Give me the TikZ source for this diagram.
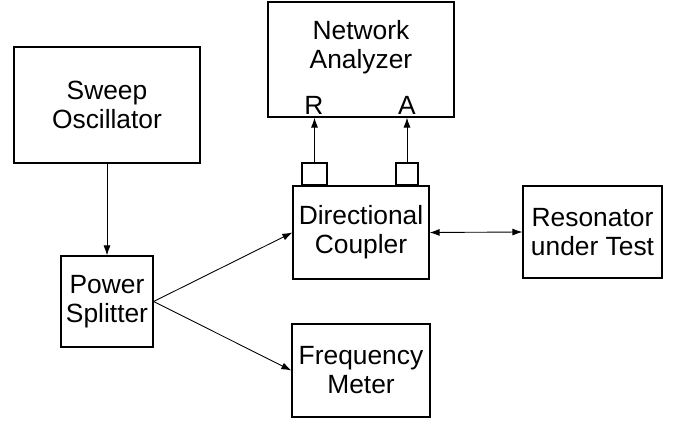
\documentclass[tikz,border=0pt]{standalone}
\usepackage{fontspec}
\setmainfont{Liberation Sans}
\usetikzlibrary{arrows.meta}
\tikzset{
    BX/.style ={rectangle, draw, line width=0.7pt, align=center, inner sep=0pt, font=\fontsize{15}{16.5}\selectfont},
    TX/.style ={align=center, inner sep=0pt, font=\fontsize{15}{16.5}\selectfont},
    PT/.style ={rectangle, draw, line width=0.6pt, inner sep=0pt},
    LB/.style ={inner sep=0pt, font=\fontsize{15}{16.5}\selectfont},
    AR/.style ={line width=0.5pt, -{Latex[length=2mm,width=1.4mm]}}}

\begin{document}
\begin{tikzpicture}[x=0.02cm, y=-0.02cm]
        \useasboundingbox (0,0) rectangle (685,425);
        \node[BX, minimum width=3.72cm, minimum height=2.32cm] (1) at(107,105){Sweep\\Oscillator};
        \node[BX, minimum width=1.84cm, minimum height=1.82cm] (2) at(107,301.5){Power\\Splitter};
        \node[BX, minimum width=3.72cm, minimum height=2.30cm] (3) at(361,59.5){};
        \node[TX] (11) at(361,47){Network\\Analyzer};
        \node[BX, minimum width=2.72cm, minimum height=1.86cm] (4) at(361,232.5){Directional\\Coupler};
        \node[BX, minimum width=2.78cm, minimum height=1.84cm] (5) at(592.5,232){Resonator\\under Test};
        \node[BX, minimum width=2.76cm, minimum height=1.86cm] (6) at(361,370.5){Frequency\\Meter};
        \node[PT, minimum width=0.50cm, minimum height=0.44cm] (7) at(314.5,174){};
        \node[PT, minimum width=0.44cm, minimum height=0.44cm] (8) at(407,174){};
        \node[LB] (9) at(314,105){R};
        \node[LB] (10) at(407,105){A};
        \draw[AR] (1) -- (2);
        \draw[AR] (2.east) -- (4.west);
        \draw[AR] (2.east) -- (6.west);
        \draw[AR, {Latex[length=2mm,width=1.4mm]}-{Latex[length=2mm,width=1.4mm]}] (4.east) -- (5.west);
        \draw[AR] (7.north) -- (7.north |- 3.south);
        \draw[AR] (8.north) -- (8.north |- 3.south);
    \end{tikzpicture}
\end{document}
